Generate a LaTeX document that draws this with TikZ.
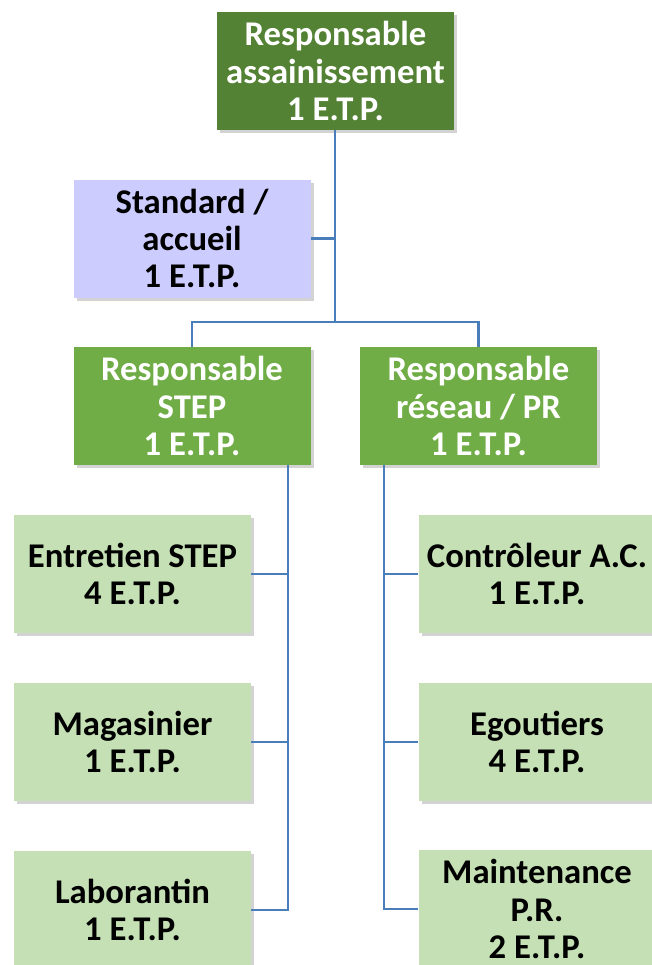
\documentclass[tikz,border=0pt]{standalone}
\usepackage{fontspec}
\setmainfont{Carlito}
\usetikzlibrary{shadows}
\definecolor{dkgreen}{HTML}{548235}
\definecolor{mdgreen}{HTML}{70AD47}
\definecolor{ltgreen}{HTML}{C5E0B4}
\definecolor{lavender}{HTML}{CCCCFF}
\definecolor{linkblue}{HTML}{4A7EBB}
\tikzset{
  box/.style={rectangle, minimum width=177.75pt, minimum height=88.5pt, inner sep=0pt,
    align=center, font=\fontsize{26}{27.8}\selectfont\bfseries,
    drop shadow={opacity=0.35, shadow xshift=2.5pt, shadow yshift=-2.5pt}},
  topbox/.style={box, fill=dkgreen, text=white},
  midbox/.style={box, fill=mdgreen, text=white},
  stdbox/.style={box, fill=lavender, text=black},
  leafbox/.style={box, fill=ltgreen, text=black},
  link/.style={draw=linkblue, line width=1.9pt}
}
\begin{document}
\begin{tikzpicture}[x=0.75pt, y=-0.75pt]
\useasboundingbox (0,0) rectangle (652,965);
\clip (0,0) rectangle (652,965);
\coordinate (j) at (335,322);
\coordinate (sx) at (288,0);
\coordinate (rx) at (384,0);
\node[topbox] (top) at (335.5,71) {Responsable\\assainissement\\1 E.T.P.};
\node[stdbox] (std) at (192,238.5) {Standard /\\accueil\\1 E.T.P.};
\node[midbox] (step) at (192,406) {Responsable\\STEP\\1 E.T.P.};
\node[midbox] (res) at (478.5,406) {Responsable\\réseau / PR\\1 E.T.P.};
\node[leafbox] (ent) at (132.5,574) {Entretien STEP\\4 E.T.P.};
\node[leafbox] (mag) at (132.5,742) {Magasinier\\1 E.T.P.};
\node[leafbox] (lab) at (132.5,910) {Laborantin\\1 E.T.P.};
\node[leafbox] (con) at (537,574) {Contrôleur A.C.\\1 E.T.P.};
\node[leafbox] (ego) at (537,742) {Egoutiers\\4 E.T.P.};
\node[leafbox] (mai) at (537,909) {Maintenance\\P.R.\\2 E.T.P.};
\draw[link] (top.south -| j) -- (j);
\draw[link] (std.east) -- (std.east -| j);
\draw[link] (step.north) |- (j) -| (res.north);
\draw[link] (step.south -| sx) |- (lab.east);
\draw[link] (ent.east) -- (ent.east -| sx);
\draw[link] (mag.east) -- (mag.east -| sx);
\draw[link] (res.south -| rx) |- (mai.west);
\draw[link] (con.west) -- (con.west -| rx);
\draw[link] (ego.west) -- (ego.west -| rx);
\end{tikzpicture}
\end{document}
